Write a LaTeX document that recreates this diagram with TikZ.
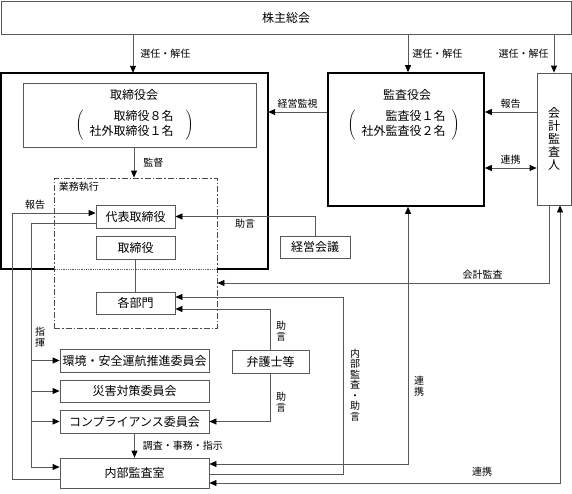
\documentclass[tikz,border=0pt]{standalone}
\usepackage{fontspec}
\setmainfont{Noto Sans CJK JP}
\usetikzlibrary{arrows.meta,positioning}

\begin{document}
\begin{tikzpicture}[x=1pt, y=-1pt,
        >={Triangle[length=7pt, width=6pt, color=black]},
        line/.style={draw=black!65, line width=.8pt},
        arr/.style={line, ->},
        both/.style={line, <->},
        box/.style={draw=black!65, line width=.8pt, inner sep=0pt, font=\fontsize{12}{15}\selectfont},
        thickbox/.style={draw=black, line width=1.6pt, inner sep=0pt},
        title/.style={inner sep=0pt, font=\fontsize{12}{15}\selectfont},
        lbl/.style={inner sep=1pt, font=\fontsize{10}{10.5}\selectfont},
        vlbl/.style={lbl, align=center}]
        \useasboundingbox (0,0) rectangle (572,493);

        \node[box, minimum width=570, minimum height=33] (soukai) at (286,17.5) {株主総会};

        \node[inner sep=0pt, minimum width=267, minimum height=196] (board) at (134.5,171) {};
        \node[box, minimum width=233, minimum height=64] (torishimari) at (139.5,115) {};
        \node[title] (tkTitle) at (134,95) {取締役会};
        \node[title] (tkMembers) at (134.5,125) {$\left(\hspace{6pt}\begin{tabular}{@{}r@{}}取締役８名\\社外取締役１名\end{tabular}\hspace{12pt}\right)$};

        \node[draw=black!70, line width=.8pt, dash pattern=on 6pt off 2pt on 1.5pt off 2pt,
                minimum width=163, minimum height=150] (gyomu) at (135.5,253) {};
        \node[lbl, anchor=north west] (gyomuLabel) at ([xshift=4pt, yshift=-3pt]gyomu.north west) {業務執行};
        \node[box, minimum width=79, minimum height=23] (daihyo) at (135.5,216.5) {代表取締役};
        \node[box, minimum width=79, minimum height=23] (tori) at (135.5,247.5) {取締役};
        \node[box, minimum width=79, minimum height=22] (bumon) at (135.5,303) {各部門};

        \node[thickbox, minimum width=156, minimum height=133] (kansayaku) at (406,139.5) {};
        \node[title] (ksTitle) at (407,95) {監査役会};
        \node[title] (ksMembers) at (403.5,125) {$\left(\hspace{6pt}\begin{tabular}{@{}r@{}}監査役１名\\社外監査役２名\end{tabular}\hspace{6pt}\right)$};

        \node[box, minimum width=34, minimum height=132, align=center, font=\fontsize{12}{13}\selectfont] (kaikei) at (554,139) {会\\計\\監\\査\\人};
        \node[box, minimum width=70, minimum height=22] (keiei) at (315,247) {経営会議};

        \node[box, minimum width=149, minimum height=23] (kankyo) at (134.5,360.5) {環境・安全運航推進委員会};
        \node[box, minimum width=149, minimum height=22] (saigai) at (134.5,391) {災害対策委員会};
        \node[box, minimum width=149, minimum height=23] (compla) at (134.5,421.5) {コンプライアンス委員会};
        \node[box, minimum width=149, minimum height=30] (naibu) at (134.5,473) {内部監査室};
        \node[box, minimum width=77, minimum height=23] (bengo) at (270.5,361.5) {弁護士等};

        \draw[draw=black, line width=1.6pt] (gyomu.west |- board.south) -- (board.south west) -- (board.north west)
                -- (board.north east) -- (board.south east) -- (gyomu.east |- board.south);
        \draw[line, densely dotted] (gyomu.west |- board.south) -- (gyomu.east |- board.south);

        \draw[arr] (soukai.south -| 133,0) -- node[lbl, right=6pt] (senninA) {選任・解任} (board.north -| 133,0);
        \draw[arr] (soukai.south -| 408,0) -- node[lbl, right=3pt] (senninB) {選任・解任} (kansayaku.north -| 408,0);
        \draw[arr] (soukai.south -| kaikei) -- node[lbl, left=4pt] (senninC) {選任・解任} (kaikei.north);

        \draw[arr] (kansayaku.west |- 0,112) -- node[lbl, above=2pt] (kanshi) {経営監視} (board.east |- 0,112);
        \draw[arr] (kaikei.west |- 0,112) -- node[lbl, above=2pt] (houkokuA) {報告} (kansayaku.east |- 0,112);
        \draw[both] (kansayaku.east |- 0,168) -- node[lbl, above=2pt] (renkeiA) {連携} (kaikei.west |- 0,168);
        \draw[arr] (torishimari.south -| 134,0) -- node[lbl, right=8pt] (kantoku) {監督} (gyomu.north -| 134,0);

        \draw[arr] (keiei.north) |- (daihyo.east) node[lbl, pos=.75, below=1pt] (jogenA) {助言};
        \draw[arr] (kaikei.south -| 549,0) |- (gyomu.east |- 0,283) node[lbl, pos=.6, above=2pt] (kaikeiKansa) {会計監査};
        \draw[line] (tori.south) -- (bumon.north);

        \coordinate (houkokuIn) at ([yshift=3.5pt]daihyo.west);
        \coordinate (shikiOut) at ([yshift=-6.5pt]daihyo.west);
        \coordinate (houkokuOut) at ([yshift=-6pt]naibu.west);
        \coordinate (shikiIn) at ([yshift=6pt]naibu.west);
        \draw[arr] (houkokuOut) -| (12,0 |- houkokuIn) -- (houkokuIn);
        \node[lbl] (houkokuB) at (35,205) {報告};
        \draw[arr] (shikiOut) -| (31,0 |- shikiIn) -- (shikiIn);
        \foreach \n in {kankyo,saigai,compla}
                \draw[arr] (31,0 |- \n.west) -- (\n.west);
        \node[vlbl] (shiki) at (40,337) {指\\揮};

        \draw[arr] (compla.south) -- node[lbl, right=7pt] (chousa) {調査・事務・指示} (naibu.north);

        \draw[arr] (bengo.north) |- ([yshift=-6pt]bumon.east);
        \node[vlbl] (jogenB) at (281,331) {助\\言};
        \draw[arr] (bengo.south) |- (compla.east);
        \node[vlbl] (jogenC) at (281,402) {助\\言};

        \coordinate (bumonIn) at ([yshift=6pt]bumon.east);
        \draw[arr] ([yshift=-1pt]naibu.east) -| (343,0 |- bumonIn) -- (bumonIn);
        \node[vlbl] (naibuKansa) at (355,385) {内\\部\\監\\査\\・\\助\\言};

        \draw[both] (kansayaku.south -| 408,0) |- ([yshift=9pt]naibu.east);
        \node[vlbl] (renkeiB) at (419,386) {連\\携};
        \draw[both] (kaikei.south -| 560,0) |- ([yshift=-10pt]naibu.east);
        \node[lbl] (renkeiC) at (482,472) {連携};
\end{tikzpicture}
\end{document}
